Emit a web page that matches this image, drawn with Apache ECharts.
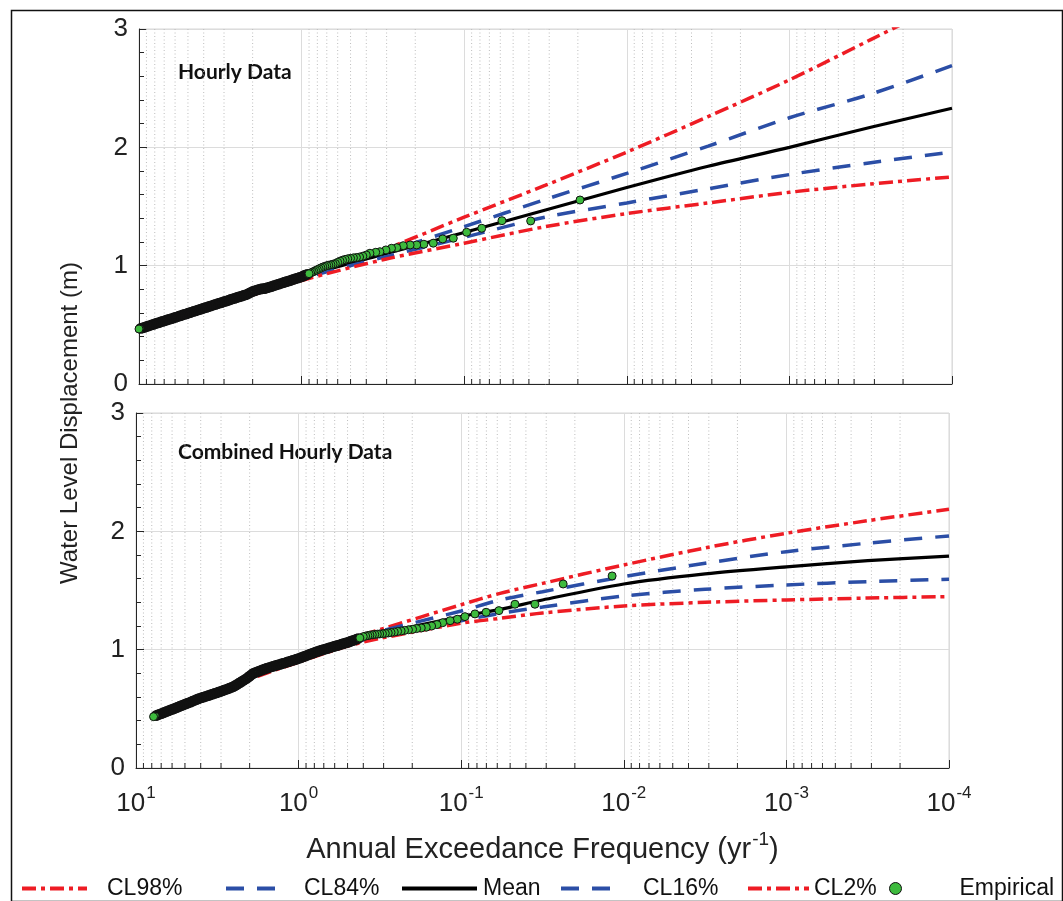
<!DOCTYPE html>
<html><head><meta charset="utf-8">
<script src="https://cdn.jsdelivr.net/npm/echarts@6/dist/echarts.min.js"></script>
<style>html,body{margin:0;padding:0;background:#fff}#c{width:1063px;height:901px}</style>
</head><body><div id="c"></div>
<script>
// ---------- data ----------
const xTickExponents = [1, 0, -1, -2, -3, -4];
const yTicks = [0, 1, 2, 3];

// Top panel: "Hourly Data"
const curveFreqTop = [10, 3.16, 1, 0.316, 0.1, 0.0316, 0.01, 0.00316, 0.001, 0.000316, 0.0001];
const topCL98 = [0.465, 0.69, 0.93, 1.135, 1.41, 1.68, 1.96, 2.26, 2.57, 2.91, 3.25];
const topCL84 = [0.465, 0.685, 0.92, 1.11, 1.33, 1.56, 1.78, 2.01, 2.25, 2.45, 2.69];
const topMean = [0.465, 0.68, 0.906, 1.095, 1.28, 1.47, 1.66, 1.84, 2.0, 2.17, 2.33];
const topCL16 = [0.465, 0.675, 0.89, 1.07, 1.24, 1.41, 1.53, 1.65, 1.77, 1.87, 1.96];
const topCL2  = [0.465, 0.67, 0.875, 1.05, 1.19, 1.33, 1.44, 1.53, 1.62, 1.69, 1.75];

const topEmpFreq = [0.0194, 0.039, 0.0586, 0.078, 0.0966, 0.1167, 0.1356, 0.155, 0.177, 0.196, 0.215, 0.237, 0.26, 0.28, 0.303, 0.33, 0.35, 0.38,
  0.40, 0.42, 0.44, 0.46, 0.48, 0.50, 0.52, 0.54, 0.56, 0.58, 0.60, 0.62, 0.64, 0.66, 0.68, 0.70, 0.72, 0.74, 0.76, 0.78, 0.80, 0.82, 0.84, 0.86, 0.88, 0.90, 0.92, 0.94, 0.96, 0.98, 1.0,
  1.03, 1.06, 1.09, 1.12, 1.15, 1.18, 1.21, 1.24, 1.27, 1.3, 1.34, 1.38, 1.42, 1.46, 1.5, 1.54, 1.58, 1.62, 1.66, 1.7, 1.75, 1.8, 1.85, 1.9, 1.95, 2.0, 2.05, 2.1, 2.16, 2.22, 2.28, 2.34, 2.4, 2.46, 2.52, 2.59, 2.66, 2.73, 2.8, 2.88, 2.96, 3.04, 3.12, 3.2, 3.29, 3.38, 3.47, 3.56, 3.65, 3.75, 3.85, 3.95, 4.05, 4.16, 4.27, 4.38, 4.5, 4.62, 4.74, 4.86, 4.99, 5.12, 5.26, 5.4, 5.54, 5.68, 5.83, 5.98, 6.14, 6.3, 6.47, 6.64, 6.81, 6.99, 7.17, 7.36, 7.55, 7.75, 7.95, 8.16, 8.37, 8.59, 8.81, 9.04, 9.28, 9.52, 9.76, 10.0];
const topEmpVal = [1.555, 1.378, 1.380, 1.316, 1.282, 1.232, 1.226, 1.19, 1.181, 1.175, 1.175, 1.169, 1.152, 1.147, 1.133, 1.118, 1.113, 1.105,
  1.09, 1.08, 1.073, 1.069, 1.066, 1.062, 1.058, 1.053, 1.046, 1.038, 1.028, 1.018, 1.013, 1.008, 1.004, 1.0, 0.994, 0.988, 0.981, 0.973, 0.966, 0.959, 0.951, 0.945, 0.938, 0.932, 0.927, 0.923, 0.918, 0.912, 0.906,
  0.900, 0.895, 0.890, 0.884, 0.879, 0.874, 0.869, 0.865, 0.860, 0.856, 0.850, 0.844, 0.839, 0.833, 0.828, 0.823, 0.818, 0.814, 0.809, 0.806, 0.805, 0.801, 0.797, 0.792, 0.787, 0.782, 0.775, 0.768, 0.758, 0.753, 0.748, 0.743, 0.738, 0.734, 0.729, 0.724, 0.719, 0.714, 0.709, 0.703, 0.698, 0.693, 0.688, 0.683, 0.678, 0.673, 0.668, 0.663, 0.658, 0.653, 0.648, 0.643, 0.638, 0.633, 0.628, 0.623, 0.618, 0.613, 0.608, 0.603, 0.598, 0.593, 0.588, 0.583, 0.578, 0.573, 0.568, 0.563, 0.558, 0.553, 0.548, 0.543, 0.539, 0.534, 0.529, 0.524, 0.519, 0.514, 0.509, 0.504, 0.499, 0.494, 0.489, 0.484, 0.479, 0.474, 0.470, 0.465];

// Bottom panel: "Combined Hourly Data"
const curveFreqBot = [7.8, 3.04, 2.08, 1, 0.5, 0.316, 0.1, 0.0577, 0.0316, 0.01, 0.00316, 0.001, 0.000316, 0.0001];
const botCL98 = [0.44, 0.655, 0.77, 0.945, 1.085, 1.17, 1.38, 1.476, 1.56, 1.716, 1.86, 1.984, 2.09, 2.187];
const botCL84 = [0.437, 0.65, 0.765, 0.935, 1.075, 1.155, 1.327, 1.42, 1.49, 1.617, 1.73, 1.828, 1.90, 1.961];
const botMean = [0.434, 0.645, 0.758, 0.925, 1.065, 1.135, 1.28, 1.34, 1.42, 1.555, 1.64, 1.70, 1.752, 1.79];
const botCL16 = [0.431, 0.64, 0.75, 0.91, 1.045, 1.115, 1.245, 1.307, 1.36, 1.454, 1.51, 1.547, 1.575, 1.595];
const botCL2  = [0.428, 0.635, 0.74, 0.895, 1.03, 1.095, 1.223, 1.265, 1.31, 1.369, 1.40, 1.42, 1.436, 1.448];

const botEmpFreq = [0.0118, 0.0236, 0.0352, 0.0467, 0.0586, 0.0703, 0.0823, 0.0948, 0.1057, 0.117, 0.130, 0.141, 0.152, 0.164, 0.176, 0.188, 0.199, 0.211, 0.223, 0.234, 0.246, 0.258, 0.27, 0.281, 0.293, 0.305, 0.317, 0.328, 0.34, 0.352, 0.364, 0.375, 0.387, 0.40,
  0.42, 0.43, 0.44, 0.455, 0.467, 0.48, 0.49, 0.505, 0.518, 0.53, 0.545, 0.56, 0.575, 0.59, 0.605, 0.62, 0.636, 0.652, 0.67, 0.687, 0.705, 0.723, 0.742, 0.761, 0.781, 0.801, 0.822, 0.843, 0.865, 0.888, 0.911, 0.935, 0.959, 0.984, 1.01,
  1.03, 1.06, 1.09, 1.12, 1.15, 1.18, 1.21, 1.24, 1.27, 1.3, 1.34, 1.38, 1.42, 1.46, 1.5, 1.54, 1.58, 1.62, 1.66, 1.7, 1.75, 1.8, 1.85, 1.9, 1.95, 2.0, 2.05, 2.1, 2.16, 2.22, 2.28, 2.34, 2.4, 2.46, 2.52, 2.59, 2.66, 2.73, 2.8, 2.88, 2.96, 3.04, 3.12, 3.2, 3.29, 3.38, 3.47, 3.56, 3.65, 3.75, 3.85, 3.95, 4.05, 4.16, 4.27, 4.38, 4.5, 4.62, 4.74, 4.86, 4.99, 5.12, 5.26, 5.4, 5.54, 5.68, 5.83, 5.98, 6.14, 6.3, 6.47, 6.64, 6.81, 6.99, 7.17, 7.36, 7.55, 7.8];
const botEmpVal = [1.623, 1.555, 1.384, 1.384, 1.330, 1.316, 1.302, 1.279, 1.257, 1.245, 1.228, 1.212, 1.20, 1.19, 1.183, 1.178, 1.172, 1.168, 1.163, 1.158, 1.154, 1.149, 1.145, 1.141, 1.138, 1.135, 1.133, 1.131, 1.129, 1.126, 1.123, 1.119, 1.115, 1.11,
  1.099, 1.094, 1.089, 1.081, 1.076, 1.069, 1.065, 1.060, 1.056, 1.051, 1.046, 1.041, 1.036, 1.032, 1.027, 1.023, 1.018, 1.014, 1.009, 1.004, 1.000, 0.995, 0.991, 0.986, 0.981, 0.975, 0.969, 0.964, 0.958, 0.952, 0.946, 0.940, 0.934, 0.929, 0.923,
  0.920, 0.914, 0.909, 0.904, 0.899, 0.894, 0.889, 0.885, 0.881, 0.876, 0.871, 0.866, 0.861, 0.856, 0.851, 0.846, 0.842, 0.836, 0.831, 0.825, 0.819, 0.812, 0.806, 0.800, 0.788, 0.776, 0.765, 0.754, 0.744, 0.734, 0.724, 0.714, 0.705, 0.696, 0.687, 0.681, 0.675, 0.669, 0.663, 0.657, 0.651, 0.645, 0.640, 0.635, 0.630, 0.624, 0.619, 0.614, 0.609, 0.604, 0.599, 0.594, 0.589, 0.583, 0.577, 0.570, 0.564, 0.557, 0.551, 0.545, 0.539, 0.533, 0.527, 0.520, 0.514, 0.508, 0.502, 0.496, 0.490, 0.484, 0.478, 0.472, 0.466, 0.460, 0.454, 0.448, 0.442, 0.434];

// ---------- build ----------
const minorTicks = [];
for (let e = -4; e <= 0; e++) for (let m = 2; m <= 9; m++) minorTicks.push([+(m * Math.pow(10, e)).toPrecision(3), 0]);

const pair = (xs, ys) => xs.map((x, i) => [x, ys[i]]);
const FONT = '"Liberation Sans", Arial, sans-serif';
const RED = '#ee1c24', BLUE = '#2b4ea6';
const redDash = [14, 5, 4, 5], blueDash = [18, 13];

const grids = [
  { left: 139, right: 111, top: 29, height: 355 },
  { left: 136, right: 114, top: 413, height: 355 }
];

function xAxis(i) {
  return {
    type: 'log', logBase: 10, min: 0.0001, max: 10, inverse: true, gridIndex: i,
    splitNumber: 5,
    axisLine: { lineStyle: { color: '#262626', width: 1 } },
    axisTick: { inside: true, length: 8, lineStyle: { color: '#262626' } },
    splitLine: { show: true, lineStyle: { color: '#dcdcdc', width: 1 } },
    axisLabel: i === 1 ? {
      margin: 21,
      formatter: v => '{b|10}{s|' + xTickExponents[xTickExponents.indexOf(Math.round(Math.log10(v)))] + '}',
      rich: {
        b: { fontFamily: FONT, fontSize: 26, color: '#222', lineHeight: 28, verticalAlign: 'bottom' },
        s: { fontFamily: FONT, fontSize: 17, color: '#222', lineHeight: 17, padding: [0, 0, 15, 1], verticalAlign: 'bottom' }
      }
    } : { show: false },
    name: i === 1 ? 'Annual Exceedance Frequency (yr{s|-1})' : '',
    nameLocation: 'middle', nameGap: 66,
    nameTextStyle: {
      fontFamily: FONT, fontSize: 29, color: '#222', lineHeight: 32, verticalAlign: 'top',
      rich: { s: { fontFamily: FONT, fontSize: 19, color: '#222', lineHeight: 19, padding: [0, 0, 17, 1], verticalAlign: 'bottom' } }
    }
  };
}
function yAxis(i) {
  return {
    type: 'value', min: yTicks[0], max: yTicks[yTicks.length - 1], interval: 1, gridIndex: i,
    axisLine: { show: true, lineStyle: { color: '#262626', width: 1 } },
    axisTick: { show: true, inside: true, length: 8, lineStyle: { color: '#262626' } },
    minorTick: { show: true, splitNumber: 5, length: 5, lineStyle: { color: '#262626' } },
    splitLine: { show: true, lineStyle: { color: '#dcdcdc', width: 1 } },
    axisLabel: { fontFamily: FONT, fontSize: 26, color: '#222', margin: 11 }
  };
}
function minorSeries(i) {
  return {
    type: 'custom', xAxisIndex: i, yAxisIndex: i, silent: true, z: 1, data: minorTicks,
    renderItem: (params, api) => {
      const x = api.coord([api.value(0), 0])[0];
      const cs = params.coordSys;
      return { type: 'group', children: [
        { type: 'line', shape: { x1: x, y1: cs.y, x2: x, y2: cs.y + cs.height }, style: { stroke: '#bdbdbd', lineWidth: 1, lineDash: [1, 2.5] } },
        { type: 'line', shape: { x1: x, y1: cs.y + cs.height, x2: x, y2: cs.y + cs.height - 5 }, style: { stroke: '#262626', lineWidth: 1 } }
      ] };
    }
  };
}
function lineSeries(i, name, xs, ys, color, dash, width) {
  return {
    type: 'line', name, xAxisIndex: i, yAxisIndex: i, data: pair(xs, ys), showSymbol: false, symbol: 'none',
    smooth: 0.3, z: 3, silent: true,
    lineStyle: { color, width, type: dash },
    itemStyle: { color }
  };
}
// Empirical points: the visible, separated ones, plus the heavily over-plotted run (which renders as a dark band)
function empSeries(i, xs, ys, denseAbove) {
  const all = pair(xs, ys);
  const fmax = Math.max.apply(null, xs);
  const open = all.filter(p => p[0] <= denseAbove || p[0] === fmax);
  const crowded = all.filter(p => p[0] > denseAbove && p[0] !== fmax);
  const base = { type: 'scatter', name: 'Empirical', xAxisIndex: i, yAxisIndex: i, symbol: 'circle', silent: true };
  return [
    Object.assign({}, base, { data: open, symbolSize: 8, z: 5,
      itemStyle: { color: '#3dba3d', borderColor: '#111', borderWidth: 1, opacity: 1 } }),
    Object.assign({}, base, { data: crowded, symbolSize: 8, z: 4,
      itemStyle: { color: '#3dba3d', borderColor: '#111', borderWidth: 2.8, opacity: 1 } })
  ];
}

const series = [
  minorSeries(0), minorSeries(1),
  lineSeries(0, 'CL98%', curveFreqTop, topCL98, RED, redDash, 3.5),
  lineSeries(0, 'CL84%', curveFreqTop, topCL84, BLUE, blueDash, 3.5),
  lineSeries(0, 'Mean', curveFreqTop, topMean, '#000', 'solid', 3.2),
  lineSeries(0, 'CL16%', curveFreqTop, topCL16, BLUE, blueDash, 3.5),
  lineSeries(0, 'CL2%', curveFreqTop, topCL2, RED, redDash, 3.5),
  ...empSeries(0, topEmpFreq, topEmpVal, 0.9),
  lineSeries(1, 'CL98%', curveFreqBot, botCL98, RED, redDash, 3.5),
  lineSeries(1, 'CL84%', curveFreqBot, botCL84, BLUE, blueDash, 3.5),
  lineSeries(1, 'Mean', curveFreqBot, botMean, '#000', 'solid', 3.2),
  lineSeries(1, 'CL16%', curveFreqBot, botCL16, BLUE, blueDash, 3.5),
  lineSeries(1, 'CL2%', curveFreqBot, botCL2, RED, redDash, 3.5),
  ...empSeries(1, botEmpFreq, botEmpVal, 0.42)
];

function leg(name, left, iw, ih, pad, line) {
  const l = {
    data: [line ? name : { name, icon: 'circle' }], left, top: 877, itemWidth: iw, itemHeight: ih, padding: 0, itemGap: 0,
    selectedMode: false,
    textStyle: { fontFamily: FONT, fontSize: 23, color: '#111', padding: [0, 0, 0, pad] }
  };
  if (line) {
    l.itemStyle = { color: 'rgba(0,0,0,0)', borderColor: 'rgba(0,0,0,0)', borderWidth: 0 };
    l.lineStyle = { color: line.color, width: 4, type: line.dash };
  } else {
    l.itemStyle = { color: '#3dba3d', borderColor: '#111', borderWidth: 1 };
  }
  return l;
}

const option = {
  animation: false,
  backgroundColor: '#fff',
  grid: grids.map(g => Object.assign({ show: true, borderColor: '#d6d6d6', borderWidth: 1, backgroundColor: 'transparent' }, g)),
  xAxis: [xAxis(0), xAxis(1)],
  yAxis: [yAxis(0), yAxis(1)],
  legend: [
    leg('CL98%', 20, 65, 14, 15, { color: RED, dash: redDash }),
    leg('CL84%', 224, 61, 14, 12, { color: BLUE, dash: blueDash }),
    leg('Mean', 400, 75, 14, 1, { color: '#000', dash: 'solid' }),
    leg('CL16%', 559, 58, 14, 19, { color: BLUE, dash: blueDash }),
    leg('CL2%', 746, 61, 14, 0, { color: RED, dash: redDash }),
    leg('Empirical', 889, 12, 12, 53, null)
  ],
  graphic: [
    { type: 'rect', left: 9, top: 8, shape: { x: 0, y: 0, width: 1051, height: 891 }, style: { fill: 'none', stroke: '#111', lineWidth: 1.5 }, silent: true, z: 100 },
    { type: 'text', x: 70, y: 423, rotation: Math.PI / 2, style: { text: 'Water Level Displacement (m)', font: '24px ' + FONT, fill: '#222', align: 'center', verticalAlign: 'middle', textAlign: 'center', textVerticalAlign: 'middle' }, silent: true },
    { type: 'text', x: 178, y: 72, style: { text: 'Hourly Data', font: 'bold 21px Lato, "Open Sans", sans-serif', fill: '#111', verticalAlign: 'middle', textVerticalAlign: 'middle' }, silent: true },
    { type: 'text', x: 178, y: 452, style: { text: 'Combined Hourly Data', font: 'bold 21px Lato, "Open Sans", sans-serif', fill: '#111', verticalAlign: 'middle', textVerticalAlign: 'middle' }, silent: true }
  ],
  series
};

const chart = echarts.init(document.getElementById('c'), null, { renderer: 'canvas' });
chart.setOption(option);
</script>
</body></html>
